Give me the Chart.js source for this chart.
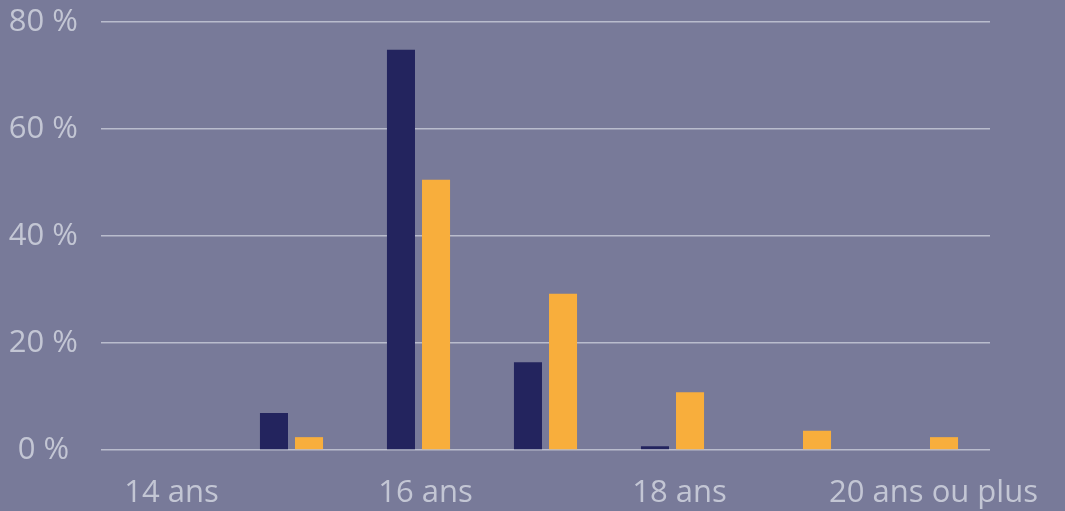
<!DOCTYPE html>
<html>
<head>
<meta charset="utf-8">
<script src="https://cdn.jsdelivr.net/npm/chart.js@4"></script>
<style>
  html, body { margin: 0; padding: 0; background: #787a99; }
  #wrap { width: 1065px; height: 511px; }
</style>
</head>
<body>
<div id="wrap"><canvas id="grafico_age"></canvas></div>
<script>
var categories = ['14 ans', '15 ans', '16 ans', '17 ans', '18 ans', '19 ans', '20 ans ou plus'];
var serieA = [0, 6.9, 74.8, 16.4, 0.7, 0, 0];
var serieB = [0, 2.4, 50.5, 29.2, 10.8, 3.6, 2.4];
var yTicks = [0, 20, 40, 60, 80];

var textColor = '#c3c6d4';
var gridColor = '#b9bccd';

var data = {
  labels: categories,
  datasets: [{
    label: 'Série 1',
    data: serieA,
    backgroundColor: '#23245e',
    borderWidth: 0,
    categoryPercentage: 0.552,
    barPercentage: 0.8
  }, {
    label: 'Série 2',
    data: serieB,
    backgroundColor: '#f8ae3c',
    borderWidth: 0,
    categoryPercentage: 0.552,
    barPercentage: 0.8
  }]
};

var options = {
  responsive: true,
  maintainAspectRatio: false,
  animation: false,
  layout: {
    padding: { left: 0, right: 75, top: 22, bottom: 0 }
  },
  plugins: {
    legend: { display: false },
    tooltip: { enabled: false }
  },
  scales: {
    x: {
      grid: { display: false, drawTicks: false },
      border: { display: false },
      ticks: {
        color: textColor,
        font: { family: 'Open Sans', size: 31 },
        maxRotation: 0,
        autoSkip: true,
        labelOffset: 7,
        padding: 25
      },
      afterFit: function (axis) {
        axis.height = 61;
        axis.paddingLeft = 0;
        axis.paddingRight = 0;
      }
    },
    y: {
      min: 0,
      max: 80,
      afterBuildTicks: function (axis) {
        axis.ticks = yTicks.map(function (v) { return { value: v }; });
      },
      grid: { color: gridColor, lineWidth: 1.6, drawTicks: false },
      border: { display: false },
      ticks: {
        color: textColor,
        font: { family: 'Open Sans', size: 31 },
        crossAlign: 'center',
        padding: 23,
        callback: function (v) { return v + ' %'; }
      },
      afterFit: function (axis) {
        axis.width = 101;
        axis.paddingTop = 0;
        axis.paddingBottom = 0;
      }
    }
  }
};

var ctx = document.getElementById('grafico_age').getContext('2d');
var barChart = new Chart(ctx, {
  type: 'bar',
  data: data,
  options: options
});
</script>
</body>
</html>
